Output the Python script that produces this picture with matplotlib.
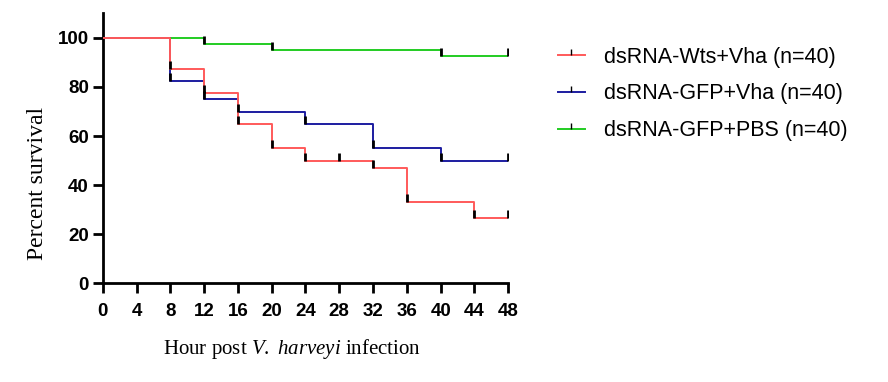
import matplotlib
matplotlib.use("Agg")
import matplotlib.pyplot as plt
import numpy as np

plt.rcParams["mathtext.fontset"] = "custom"
plt.rcParams["mathtext.rm"] = "Liberation Serif"
plt.rcParams["mathtext.it"] = "Liberation Serif:italic"

# survival curves (step changes), hours post infection
wts_t = [0, 8, 12, 16, 20, 24, 32, 36, 44, 48]
wts_s = [100, 87.5, 77.5, 65, 55, 50, 47, 33.3, 26.7, 26.7]
wts_ticks = [8, 12, 16, 20, 24, 28, 32, 36, 44, 48]

gfp_t = [0, 8, 12, 16, 24, 32, 40, 48]
gfp_s = [100, 82.5, 75, 70, 65, 55, 50, 50]
gfp_ticks = [8, 12, 16, 24, 32, 40, 48]

pbs_t = [0, 12, 20, 40, 48]
pbs_s = [100, 97.5, 95, 92.5, 92.5]
pbs_ticks = [12, 20, 40, 48]

labels = ["dsRNA-Wts+Vha (n=40)", "dsRNA-GFP+Vha (n=40)", "dsRNA-GFP+PBS (n=40)"]
colors = ["#ff5a5a", "#1c1ca0", "#22cc22"]
xticks = np.arange(0, 49, 4)
yticks = np.arange(0, 101, 20)


def value_at(t, s, x):
    idx = np.searchsorted(t, x, side="right") - 1
    return np.array(s)[idx]


fig = plt.figure(figsize=(8.88, 3.82), dpi=100)
ax = fig.add_axes([0.1157, 0.2584, 0.4566, 0.7066])

series = [(wts_t, wts_s, wts_ticks), (gfp_t, gfp_s, gfp_ticks), (pbs_t, pbs_s, pbs_ticks)]
leg_handles = []
for i, ((t, s, ck), c) in enumerate(zip(series, colors)):
    z = 4 - i  # red on top, green at the bottom
    h, = ax.step(t, s, where="post", color=c, lw=1.4, zorder=z)
    leg_handles.append(h)
    ck = np.array(ck)
    ax.plot(ck, value_at(t, s, ck), ls="none", marker=2, ms=6, mew=2,
            color="black", zorder=5)

ax.set_xlim(0, 48)
ax.set_ylim(0, 110)
ax.set_xticks(xticks)
ax.set_yticks(yticks)
for sp in ["top", "right"]:
    ax.spines[sp].set_visible(False)
for sp in ["left", "bottom"]:
    ax.spines[sp].set_linewidth(2)
ax.tick_params(width=2, length=7, labelsize=13.5)
ax.tick_params(axis="x", pad=7)
ax.tick_params(axis="y", pad=3)
for lbl in ax.get_xticklabels() + ax.get_yticklabels():
    lbl.set_fontweight("bold")
    lbl.set_family("Liberation Sans")

ax.set_ylabel("Percent survival", family="Liberation Serif", fontsize=17)
ax.yaxis.set_label_coords(-0.135, 0.371)
ax.set_xlabel("Hour post $\\mathit{V.}$ $\\mathit{harveyi}$ infection",
              family="Liberation Serif", fontsize=15)
ax.xaxis.set_label_coords(0.467, -0.2)

leg = fig.legend(leg_handles, labels, loc="center left", bbox_to_anchor=(0.606, 0.754),
                 frameon=False, prop={"family": "Liberation Sans", "size": 15.5},
                 handlelength=1.3, handletextpad=0.84, labelspacing=0.74)
for line in leg.get_lines():
    x = line.get_xdata()
    line.set_xdata(np.array([0, 0.5, 1.0]) * (x[-1] - x[0]) + x[0])
    line.set_ydata(np.full(3, line.get_ydata()[0]))
    line.set_marker(2)
    line.set_markersize(4)
    line.set_markeredgecolor("black")
    line.set_markeredgewidth(1)
    line.set_markevery([1])

fig.savefig("out.png", dpi=100)
